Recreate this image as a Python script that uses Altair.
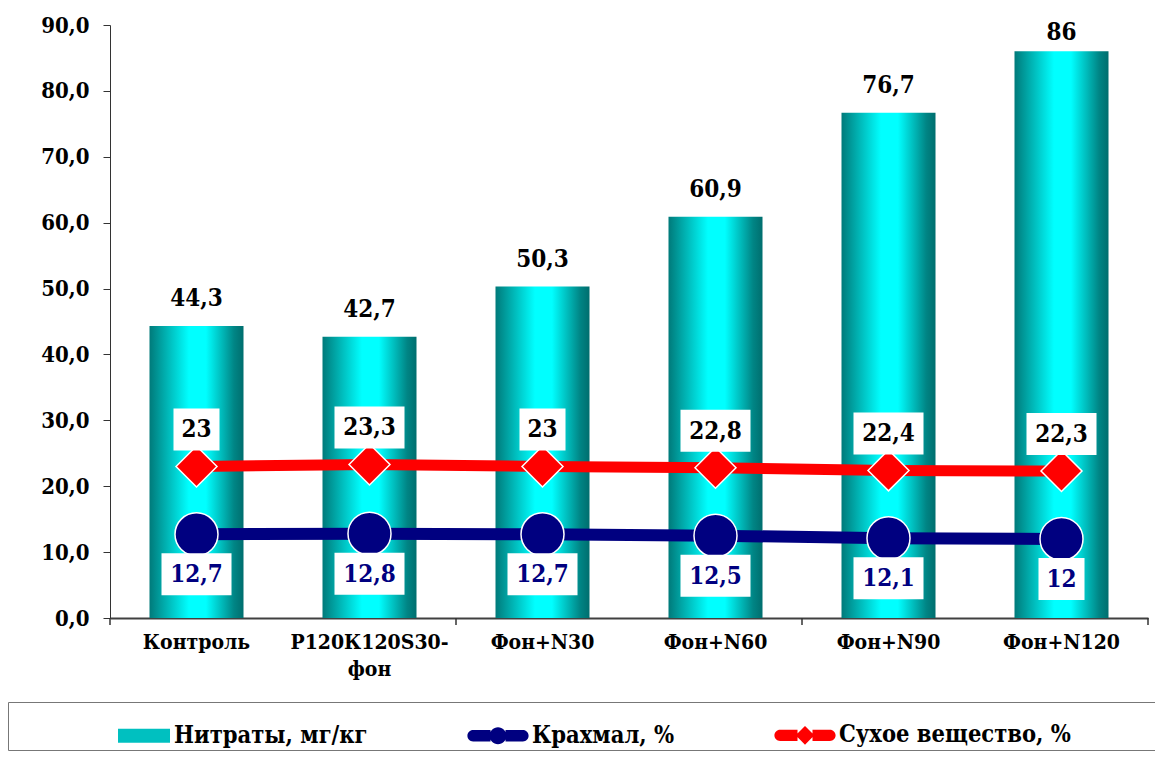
import altair as alt
import pandas as pd

categories = ["Контроль", "Р120К120S30-фон", "Фон+N30", "Фон+N60", "Фон+N90", "Фон+N120"]
nitrates = [44.3, 42.7, 50.3, 60.9, 76.7, 86]
starch = [12.7, 12.8, 12.7, 12.5, 12.1, 12]
dry_matter = [23, 23.3, 23, 22.8, 22.4, 22.3]
series_names = ["Нитраты, мг/кг", "Крахмал, %", "Сухое вещество, %"]
y_ticks = [0, 10, 20, 30, 40, 50, 60, 70, 80, 90]

FONT = "DejaVu Serif Condensed, DejaVu Serif"
W, H = 1038, 593


def fmt(v):
    return f"{v:g}".replace(".", ",")


df = pd.DataFrame({
    "cat": categories,
    "nit": nitrates,
    "st": starch,
    "dm": dry_matter,
    "nit_l": [fmt(v) for v in nitrates],
    "st_l": [fmt(v) for v in starch],
    "dm_l": [fmt(v) for v in dry_matter],
})

x_axis = alt.Axis(
    title=None, ticks=False, labelAngle=0, labelFont=FONT, labelFontSize=21,
    labelFontWeight="bold", labelColor="black", labelPadding=13,
    domainColor="#404040", domainWidth=2, labelBaseline="top", labelLineHeight=27,
    labelExpr="split(replace(datum.label, '-', '-|'), '|')", labelLimit=300,
)
x_scale = alt.Scale(domain=categories, paddingInner=0, paddingOuter=0)


def X(band=None):
    if band is None:
        return alt.X("cat:N", sort=categories, scale=x_scale, axis=x_axis)
    return alt.X("cat:N", sort=categories, scale=x_scale, axis=x_axis, bandPosition=band)


y_axis = alt.Axis(
    title=None, values=y_ticks, grid=False, labelFont=FONT, labelFontSize=22,
    labelFontWeight="bold", labelColor="black", labelPadding=14, tickSize=7,
    tickColor="#333333", domainColor="#333333",
    labelExpr="replace(format(datum.value, '.1f'), '.', ',')",
)
y_scale = alt.Scale(domain=[0, 90], nice=False, zero=True)


def Y(field):
    return alt.Y(f"{field}:Q", scale=y_scale, axis=y_axis)


grad = alt.Gradient(
    gradient="linear", x1=0, x2=1, y1=0, y2=0,
    stops=[
        alt.GradientStop(offset=0, color="#007a7a"),
        alt.GradientStop(offset=0.12, color="#00a0a0"),
        alt.GradientStop(offset=0.42, color="#00ffff"),
        alt.GradientStop(offset=0.6, color="#00ffff"),
        alt.GradientStop(offset=0.9, color="#008585"),
        alt.GradientStop(offset=1, color="#006e6e"),
    ],
)

base = alt.Chart(df)

bars = base.mark_bar(width=94, color=grad).encode(x=X(), y=Y("nit"))
bar_lbl_low = base.transform_filter("datum.nit < 80").mark_text(
    font=FONT, fontSize=24, fontWeight="bold", color="black", baseline="alphabetic", dy=-20
).encode(x=X(), y=Y("nit"), text="nit_l:N")
bar_lbl_high = base.transform_filter("datum.nit >= 80").mark_text(
    font=FONT, fontSize=24, fontWeight="bold", color="black", baseline="alphabetic", dy=-11
).encode(x=X(), y=Y("nit"), text="nit_l:N")

# category tick marks (every second boundary, as in the reference)
tick_start = pd.DataFrame({"cat": [categories[0], categories[2], categories[4]]})
tick_end = pd.DataFrame({"cat": [categories[5]]})
ticks0 = alt.Chart(tick_start).mark_rule(color="#333333", strokeWidth=1.5, y2Offset=7).encode(
    x=X(0), y=alt.datum(0), y2=alt.datum(0))
ticks1 = alt.Chart(tick_end).mark_rule(color="#333333", strokeWidth=1.5, y2Offset=7).encode(
    x=X(1), y=alt.datum(0), y2=alt.datum(0))

red_line = base.mark_line(color="#ff0000", strokeWidth=11).encode(x=X(), y=Y("dm"))
navy_line = base.mark_line(color="#000080", strokeWidth=12).encode(x=X(), y=Y("st"))
red_pts = base.mark_point(shape="diamond", filled=True, size=1680, fill="#ff0000",
                          stroke="white", strokeWidth=1.5, opacity=1).encode(x=X(), y=Y("dm"))
navy_pts = base.mark_point(shape="circle", filled=True, size=1850, fill="#000080",
                           stroke="white", strokeWidth=1.5, opacity=1).encode(x=X(), y=Y("st"))


def label_layers(field, lbl, box_off, box_off2, text_dy, color):
    short = base.transform_filter(f"length(datum.{lbl}) <= 2")
    long_ = base.transform_filter(f"length(datum.{lbl}) > 2")
    b1 = short.mark_bar(width=46, color="white", yOffset=box_off, y2Offset=box_off2).encode(
        x=X(), y=Y(field), y2=alt.Y2(field))
    b2 = long_.mark_bar(width=70, color="white", yOffset=box_off, y2Offset=box_off2).encode(
        x=X(), y=Y(field), y2=alt.Y2(field))
    t = base.mark_text(font=FONT, fontSize=24, fontWeight="bold", color=color,
                       baseline="middle", dy=text_dy).encode(x=X(), y=Y(field), text=f"{lbl}:N")
    return [b1, b2, t]


red_labels = label_layers("dm", "dm_l", -58, -16, -36, "black")
navy_labels = label_layers("st", "st_l", 19, 61, 41, "#000080")

# legend (real Vega-Lite legend with custom symbols)
sw_path = "M-0.733,-0.233L1,-0.233L1,0.233L-0.733,0.233Z"
cap = ("M-0.83,-0.19L-0.25,-0.19L-0.25,0.19L-0.83,0.19A0.19,0.19 0 0 1 -0.83,-0.19Z"
       "M0.25,-0.19L0.83,-0.19A0.19,0.19 0 0 1 0.83,0.19L0.25,0.19Z")
circ = "M0.28,0A0.28,0.28 0 1 1 -0.28,0A0.28,0.28 0 1 1 0.28,0Z"
diam = "M0,-0.31L0.31,0L0,0.31L-0.31,0Z"
shapes = [sw_path, cap + circ, cap + diam]

legend_def = alt.Legend(
    title="\u00a0", titleOrient="right", titlePadding=120, titleFontSize=10,
    orient="none", legendX=-102, legendY=677, direction="horizontal", columns=3,
    padding=2, strokeColor="#777777", fillColor="white",
    symbolSize=3600, symbolStrokeColor="white", symbolStrokeWidth=1.5, symbolOpacity=1,
    symbolOffset=99, labelOffset=3, columnPadding=0,
    labelFont=FONT, labelFontSize=23.5, labelFontWeight="bold", labelColor="black",
    labelLimit=500,
)
leg_df = pd.DataFrame({"series": series_names})
legend_layer = alt.Chart(leg_df).mark_point(filled=True, opacity=0).encode(
    color=alt.Color("series:N", sort=series_names,
                    scale=alt.Scale(domain=series_names, range=["#00c0c0", "#000080", "#ff0000"]),
                    legend=legend_def),
    shape=alt.Shape("series:N", sort=series_names,
                    scale=alt.Scale(domain=series_names, range=shapes),
                    legend=legend_def),
)

chart = alt.layer(
    bars, bar_lbl_low, bar_lbl_high, ticks0, ticks1,
    navy_line, red_line, navy_pts, red_pts,
    *red_labels, *navy_labels, legend_layer,
).properties(
    width=W, height=H,
    autosize=alt.AutoSizeParams(type="none"),
    padding={"left": 110, "top": 25, "right": 7, "bottom": 144},
    background="white",
).configure_view(stroke=None)

chart.save("out.html", embed_options={"renderer": "svg", "actions": False})
